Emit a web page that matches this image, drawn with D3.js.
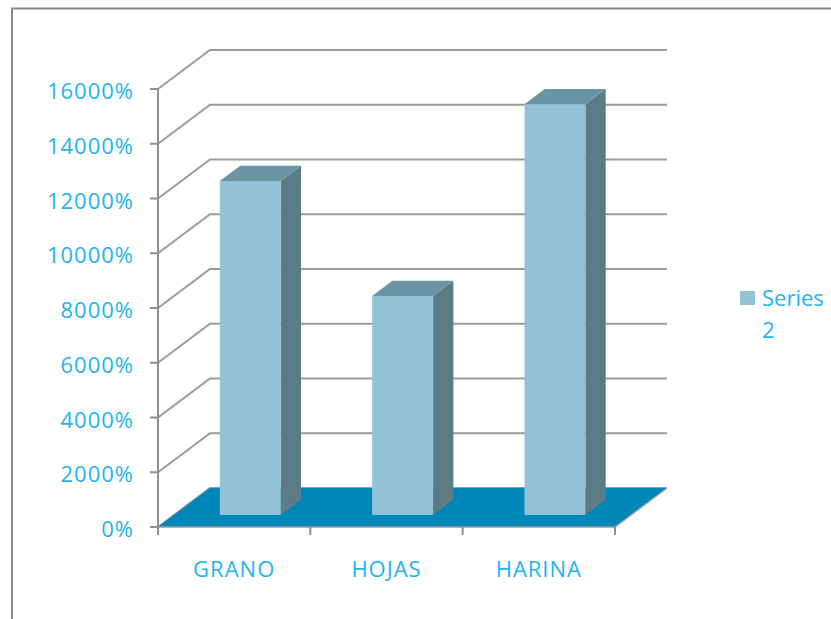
<!DOCTYPE html>
<html>
<head>
<meta charset="utf-8">
<script src="https://cdn.jsdelivr.net/npm/d3@7"></script>
<style>
  html, body { margin: 0; padding: 0; background: #fff; }
  svg { display: block; }
  text { font-family: "Open Sans", sans-serif; fill: #1fb4ef; letter-spacing: 1px; }
  .legend text { letter-spacing: 0; }
</style>
</head>
<body>
<svg id="chart" width="831" height="619"></svg>
<script>
// Data
const categories = ["GRANO", "HOJAS", "HARINA"];
const seriesName = ["Series", "2"];
const values = [12200, 8000, 15000];
const tickValues = [0, 2000, 4000, 6000, 8000, 10000, 12000, 14000, 16000];
const tickLabels = ["0%", "2000%", "4000%", "6000%", "8000%", "10000%", "12000%", "14000%", "16000%"];

const svg = d3.select("#chart");

// Plot frame (front plane) and 3D depth offset
const x0 = 158, x1 = 615;
const yTop = 89, yBase = 527;
const depthX = 52, depthY = -39;
const wallRight = x1 + depthX;

const y = d3.scaleLinear().domain([0, 16000]).range([yBase, yTop]);
const x = d3.scaleBand().domain(categories).range([x0, x1]).paddingInner(0.6).paddingOuter(0.3);
const cat = d3.scaleBand().domain(categories).range([x0, x1]);

// Bars sit in the middle of the depth
const fFront = 0.31, fBack = 0.70;

// Outer chart border
svg.append("rect")
  .attr("x", 12).attr("y", 8.5)
  .attr("width", 900).attr("height", 700)
  .attr("fill", "none").attr("stroke", "#8a8a8a").attr("stroke-width", 2);

// Gridlines: diagonal on side wall, horizontal on back wall
const grid = svg.append("g").attr("fill", "none").attr("stroke", "#9b9b9b").attr("stroke-width", 2);
tickValues.forEach(v => {
  const yy = y(v);
  grid.append("path")
    .attr("d", d3.line()([[x0, yy], [x0 + depthX, yy + depthY], [wallRight, yy + depthY]]));
});

// Floor
const floor = [[x0, yBase], [x1, yBase], [x1 + depthX, yBase + depthY], [x0 + depthX, yBase + depthY]];
svg.append("path")
  .attr("d", d3.line()(floor) + "Z")
  .attr("fill", "#0087b9");
svg.append("path")
  .attr("d", d3.line()([[x0, yBase], [x1, yBase], [x1 + depthX, yBase + depthY]]))
  .attr("fill", "none").attr("stroke", "#9b9b9b").attr("stroke-width", 1.5);

// Vertical axis with ticks
const axis = svg.append("g").attr("stroke", "#8f8f8f").attr("stroke-width", 2).attr("fill", "none");
axis.append("line").attr("x1", x0).attr("x2", x0).attr("y1", yTop).attr("y2", yBase + 8);
tickValues.forEach(v => {
  axis.append("line").attr("x1", x0 - 8).attr("x2", x0).attr("y1", y(v)).attr("y2", y(v));
});
// Category boundary ticks
const bounds = categories.map(c => cat(c)).concat([x1]);
bounds.forEach(b => {
  axis.append("line").attr("x1", b).attr("x2", b).attr("y1", yBase).attr("y2", yBase + 8);
});

// 3D columns
const fx = fFront * depthX, fy = fFront * depthY;
const bx = fBack * depthX, by = fBack * depthY;
const bars = svg.append("g");
categories.forEach((c, i) => {
  const left = x(c) + fx, right = x(c) + x.bandwidth() + fx;
  const top = y(values[i]) + fy, bottom = y(0) + fy;
  const dx = bx - fx, dy = by - fy;
  // side face
  bars.append("path")
    .attr("d", d3.line()([[right, top], [right + dx, top + dy], [right + dx, bottom + dy], [right, bottom]]) + "Z")
    .attr("fill", "#5b7b85");
  // top face
  bars.append("path")
    .attr("d", d3.line()([[left, top], [left + dx, top + dy], [right + dx, top + dy], [right, top]]) + "Z")
    .attr("fill", "#6a95a2");
  // front face
  bars.append("rect")
    .attr("x", left).attr("y", top)
    .attr("width", right - left).attr("height", bottom - top)
    .attr("fill", "#93c3d6");
});

// Y tick labels
svg.append("g").selectAll("text")
  .data(tickValues)
  .join("text")
  .attr("x", 134).attr("y", d => y(d) + 10)
  .attr("text-anchor", "end")
  .attr("font-size", 22)
  .text((d, i) => tickLabels[i]);

// Category labels
svg.append("g").selectAll("text")
  .data(categories)
  .join("text")
  .attr("x", d => cat(d) + cat.bandwidth() / 2)
  .attr("y", 577)
  .attr("text-anchor", "middle")
  .attr("font-size", 22)
  .text(d => d);

// Legend
const legend = svg.append("g").attr("class", "legend");
legend.append("rect")
  .attr("x", 740).attr("y", 291).attr("width", 15).attr("height", 14)
  .attr("fill", "#93c3d6");
legend.append("text")
  .attr("x", 762).attr("y", 306).attr("font-size", 22)
  .selectAll("tspan").data(seriesName).join("tspan")
  .attr("x", 762).attr("dy", (d, i) => i ? 32 : 0)
  .text(d => d);
</script>
</body>
</html>
